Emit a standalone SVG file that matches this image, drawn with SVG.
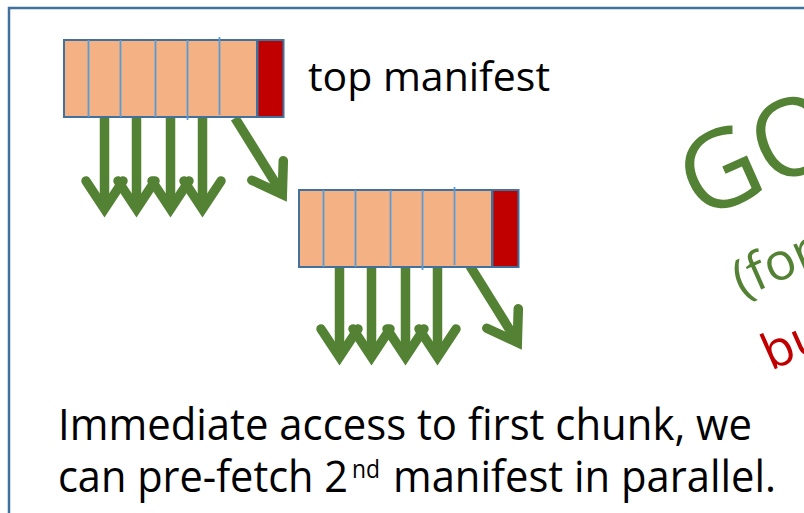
<svg xmlns="http://www.w3.org/2000/svg" xmlns:xlink="http://www.w3.org/1999/xlink" width="804" height="513" viewBox="0 0 804 513">
  <style>
    .cell { fill: #F4B183; stroke: #41719C; stroke-width: 2; }
    .meta { fill: #C00000; stroke: #41719C; stroke-width: 2; }
    .div { stroke: #5B9BD5; stroke-width: 1.8; }
    .shaft { fill: none; stroke: #548235; stroke-width: 9.5; stroke-linecap: butt; }
    .head { fill: none; stroke: #548235; stroke-width: 9.5; stroke-linecap: round; stroke-linejoin: miter; stroke-miterlimit: 10; }
    .label { font-family: "Open Sans", "Liberation Sans", sans-serif; fill: #000; }
    .go { font-family: "Open Sans", "Liberation Sans", sans-serif; }
  </style>
  <defs>
    <!-- manifest block: six chunk cells plus a trailing pointer cell -->
    <g id="manifest">
      <rect class="cell" x="64" y="40" width="193" height="77"/>
      <line class="div" x1="88.5" y1="40" x2="88.5" y2="117"/>
      <line class="div" x1="120.5" y1="40" x2="120.5" y2="117"/>
      <line class="div" x1="155.5" y1="40" x2="155.5" y2="117"/>
      <line class="div" x1="187.5" y1="40" x2="187.5" y2="120"/>
      <line class="div" x1="219.5" y1="37" x2="219.5" y2="115"/>
      <rect class="meta" x="257.5" y="40" width="26" height="77"/>
    </g>
    <!-- straight-down arrow -->
    <g id="down">
      <line class="shaft" x1="0" y1="117" x2="0" y2="205"/>
      <path class="head" d="M-18.5,181 L0,209 L18.5,181"/>
    </g>
    <!-- slanted arrow to next manifest -->
    <g id="slant">
      <line class="shaft" x1="235" y1="118" x2="281" y2="192"/>
      <path class="head" d="M283.3,160.7 L282.3,194.3 L251.8,180.2"/>
    </g>
  </defs>

  <!-- slide frame -->
  <rect x="9" y="8" width="860" height="560" fill="none" stroke="#41719C" stroke-width="2.5"/>

  <g id="connectors">
    <use xlink:href="#down" x="104.5"/>
    <use xlink:href="#down" x="136.5"/>
    <use xlink:href="#down" x="170.5"/>
    <use xlink:href="#down" x="202.5"/>
    <use xlink:href="#slant"/>
    <g transform="translate(235,148)">
      <use xlink:href="#down" x="104.5"/>
      <use xlink:href="#down" x="136.5"/>
      <use xlink:href="#down" x="170.5"/>
      <use xlink:href="#down" x="202.5"/>
      <use xlink:href="#slant"/>
    </g>
  </g>

  <g id="top-manifest">
    <use xlink:href="#manifest"/>
    <text class="label" x="308" y="91" font-size="40" textLength="242" lengthAdjust="spacingAndGlyphs">top manifest</text>
  </g>

  <g id="second-manifest">
    <use xlink:href="#manifest" transform="translate(235,150)"/>
  </g>

  <g id="caption">
    <text class="label" x="58" y="440" font-size="44" textLength="694" lengthAdjust="spacingAndGlyphs">Immediate access to first chunk, we</text>
    <text class="label" font-size="44">
      <tspan x="58" y="492" textLength="290" lengthAdjust="spacingAndGlyphs">can pre-fetch 2</tspan><tspan x="352" y="478" font-size="26" textLength="28" lengthAdjust="spacingAndGlyphs">nd</tspan><tspan x="393" y="492" textLength="383" lengthAdjust="spacingAndGlyphs">manifest in parallel.</tspan>
    </text>
  </g>

  <g id="verdict" class="go">
    <text transform="translate(699,221) rotate(-24)" font-size="108" fill="#548235">GO</text>
    <text transform="translate(742,298) rotate(-24)" font-size="52" fill="#548235">(for</text>
    <text transform="translate(771,371) rotate(-24)" font-size="50" fill="#C00000">bu</text>
  </g>
</svg>
